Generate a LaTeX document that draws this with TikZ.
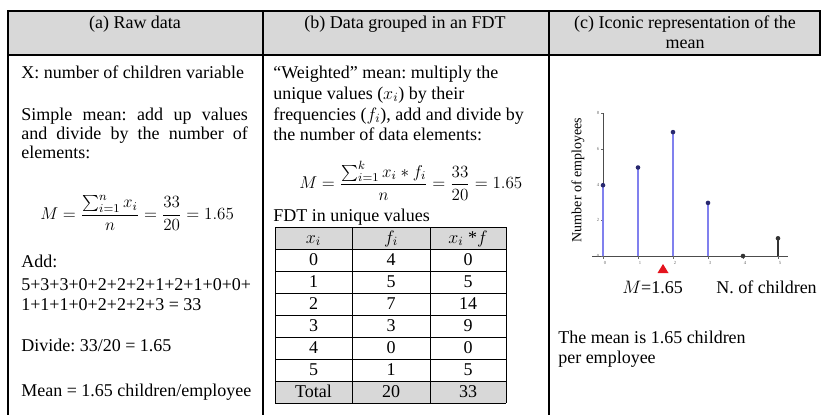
\RequirePackage{fix-cm}
\documentclass[tikz,border=0pt]{standalone}
\usepackage{amsmath}
\usepackage{fontspec}
\setmainfont{Liberation Serif}
\usetikzlibrary{positioning}

\definecolor{hdrgray}{RGB}{216,216,216}
\definecolor{stemblue}{RGB}{128,128,238}
\definecolor{dotblue}{RGB}{40,40,110}
\definecolor{markred}{RGB}{228,20,30}

\tikzset{
	txt/.style={anchor=base west, inner sep=0pt, font=\fontsize{13.5}{14.25}\selectfont\frenchspacing},
	hdr/.style={anchor=base, inner sep=0pt, font=\fontsize{13.5}{14.25}\selectfont},
	cell/.style={anchor=base, inner sep=0pt, font=\fontsize{13.5}{14.25}\selectfont},
	frm/.style={anchor=west, inner sep=0pt, font=\fontsize{12.8}{14}\selectfont},
	tick/.style={inner sep=0pt, font=\fontsize{3.5}{4}\selectfont, text=black!60},
	stem/.style={stemblue, line width=2.2pt},
	rule/.style={line width=0.9pt},
}

\begin{document}
\begin{tikzpicture}[x=0.75pt,y=-0.75pt]
		\useasboundingbox (0,0) rectangle (822,415);
		
		% frame and heading row
		\filldraw[rule, fill=hdrgray] (8,11) rectangle (820,55);
		\draw[rule] (8,55) -- (8,415) (263,11) -- (263,415) (549,11) -- (549,415);
		\node[hdr] (hdA) at (135,28) {(a) Raw data};
		\node[hdr] (hdB) at (405,28) {(b) Data grouped in an FDT};
		\node[hdr] (hdC) at (685,28) {(c) Iconic representation of the};
		\node[hdr] (hdCm) at (685,48) {mean};
		
		% (a) raw data
		\node[txt] (aVar) at (21,78) {X: number of children variable};
		\node[txt] (aS1) at (21,120) {\makebox[170pt][s]{Simple mean: add up values}};
		\node[txt] (aS2) at (21,139) {\makebox[170pt][s]{and divide by the number of}};
		\node[txt] (aS3) at (21,158) {elements:};
		\node[frm] (aM) at (40,213) {$M=\dfrac{\sum_{i=1}^{n} x_i}{n}=\dfrac{33}{20}=1.65$};
		\node[txt] (aAdd) at (21,267) {Add:};
		\node[txt] (aL1) at (21,290) {5+3+3+0+2+2+2+1+2+1+0+0+};
		\node[txt] (aL2) at (21,310) {1+1+1+0+2+2+2+3 = 33};
		\node[txt] (aDiv) at (21,351) {Divide: 33/20 = 1.65};
		\node[txt] (aMean) at (21,396) {Mean = 1.65 children/employee};
		
		% (b) grouped data
		\node[txt] (bW1) at (273,78) {``Weighted'' mean: multiply the};
		\node[txt] (bW2) at (273,99) {unique values ($x_i$) by their};
		\node[txt] (bW3) at (273,120) {frequencies ($f_i$), add and divide by};
		\node[txt] (bW4) at (273,140) {the number of data elements:};
		\node[frm] (bM) at (299,181) {$M=\dfrac{\sum_{i=1}^{k} x_i * f_i}{n}=\dfrac{33}{20}=1.65$};
		\node[txt] (bFdt) at (273,221) {FDT in unique values};
		
		% FDT table
		\fill[hdrgray] (275,227) rectangle (506,249);
		\fill[hdrgray] (275,381) rectangle (506,403);
		\foreach \yy in {227,249,...,403}
		\draw[line width=0.7pt] (275,\yy) -- (506,\yy);
		\foreach \xx in {275,352,430,506}
		\draw[line width=0.7pt] (\xx,227) -- (\xx,403);
		\node[cell] (tX) at (313.5,243) {$x_i$};
		\node[cell] (tF) at (391,243) {$f_i$};
		\node[cell] (tP) at (468,243) {$x_i$ *$f$};
		\foreach \xv/\fv/\pv [count=\r] in {0/4/0,1/5/5,2/7/14,3/3/9,4/0/0,5/1/5}{
			\node[cell] (tX\r) at (313.5,{243+22*\r}) {\xv};
			\node[cell] (tF\r) at (391,{243+22*\r}) {\fv};
			\node[cell] (tP\r) at (468,{243+22*\r}) {\pv};
		}
		\node[cell] (tXt) at (313.5,397) {Total};
		\node[cell] (tFt) at (391,397) {20};
		\node[cell] (tPt) at (468,397) {33};
		
		% (c) stem plot of the frequencies
		\draw[black!70, line width=0.5pt] (603,113) -- (603,256);
		\draw[black!70, line width=0.5pt] (592,256) -- (788,256);
		\foreach \v [count=\i from 0] in {0,2,4,6,8}{
			\draw[black!60, line width=0.3pt] (601,{256-35.7*\i}) -- (603,{256-35.7*\i});
			\node[tick] (yt\v) at (598,{256-35.7*\i}) {\v};
		}
		\foreach \k in {0,...,5}{
			\draw[black!60, line width=0.3pt] ({603+35*\k},256) -- ({603+35*\k},259);
			\node[tick] (xt\k) at ({605+35*\k},263) {\k};
		}
		\foreach \k/\f in {0/4,1/5,2/7,3/3}{
			\draw[stem] ({603+35*\k},256) -- ({603+35*\k},{256-17.7*\f});
			\fill[dotblue] ({603+35*\k},{256-17.7*\f}) circle (2.3);
		}
		\fill[black!80] (743,256) circle (2.3);
		\draw[black!80, line width=1.2pt] (778,256) -- (778,238.3);
		\fill[black!80] (778,238.3) circle (2.3);
		\fill[markred] (663,264) -- (657.5,273) -- (668.5,273) -- cycle;
		\node[anchor=center, inner sep=0pt, rotate=90, font=\fontsize{10.5}{12}\selectfont] (yLab) at (578,180) {Number of employees};
		\node[txt] (cM) at (622,293) {$M$=1.65};
		\node[txt] (cN) at (716,293) {N. of children};
		\node[txt] (cT1) at (558,343) {The mean is 1.65 children};
		\node[txt] (cT2) at (558,363) {per employee};
\end{tikzpicture}
\end{document}
